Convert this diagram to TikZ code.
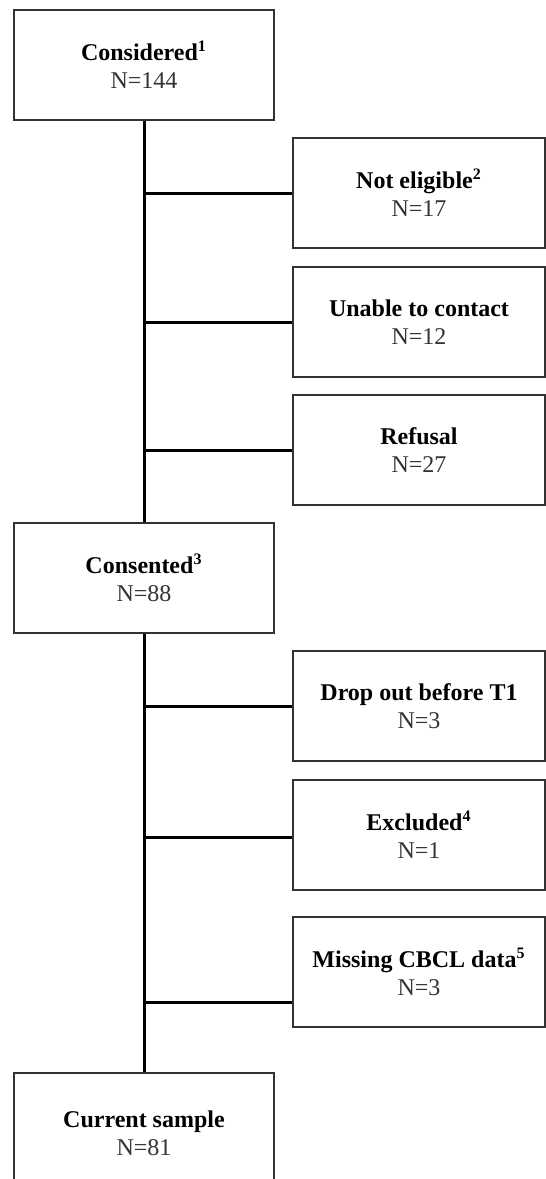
\documentclass[tikz,border=0pt]{standalone}
\usepackage{fontspec}
\setmainfont{Liberation Serif}
\tikzset{
  flowbox/.style={draw=black!80, line width=0.6pt, fill=white, align=center,
    inner sep=0pt, font=\fontsize{12}{14}\selectfont},
  leftbox/.style={flowbox, minimum width=130pt, minimum height=55pt},
  rightbox/.style={flowbox, minimum width=126pt, minimum height=55pt},
  link/.style={line width=1.5pt, black}
}
\newcommand{\boxtext}[2]{\textbf{#1}\\\textcolor{black!80}{#2}}

\begin{document}
\begin{tikzpicture}[x=0.5pt, y=-0.5pt]
    \useasboundingbox (0,0) rectangle (546,1179);
    \clip (0,0) rectangle (546,1179);
    % main column
    \node[leftbox] (consid) at (144,65) {\boxtext{Considered\textsuperscript{1}}{N=144}};
    \node[leftbox] (consent) at (144,578) {\boxtext{Consented\textsuperscript{3}}{N=88}};
    \node[leftbox, minimum height=60pt] (current) at (144,1133) {\boxtext{Current sample}{N=81}};
    % losses
    \node[rightbox] (nelig) at (419,193) {\boxtext{Not eligible\textsuperscript{2}}{N=17}};
    \node[rightbox] (nocont) at (419,322) {\boxtext{Unable to contact}{N=12}};
    \node[rightbox] (refus) at (419,450) {\boxtext{Refusal}{N=27}};
    \node[rightbox] (dropt) at (419,706) {\boxtext{Drop out before T1}{N=3}};
    \node[rightbox] (exclu) at (419,835) {\boxtext{Excluded\textsuperscript{4}}{N=1}};
    \node[rightbox] (miss) at (419,972) {\boxtext{Missing CBCL data\textsuperscript{5}}{N=3}};
    \coordinate (jmiss) at (144,1002);
    % connectors
    \draw[link] (consid) -- (consent);
    \draw[link] (consent) -- (current);
    \draw[link] (consid.south |- nelig.west) -- (nelig.west)
        (consid.south |- nocont.west) -- (nocont.west)
        (consid.south |- refus.west) -- (refus.west);
    \draw[link] (consent.south |- dropt.west) -- (dropt.west)
        (consent.south |- 0,837) -- (exclu.west |- 0,837)
        (jmiss) -- (jmiss -| miss.west);
\end{tikzpicture}
\end{document}
